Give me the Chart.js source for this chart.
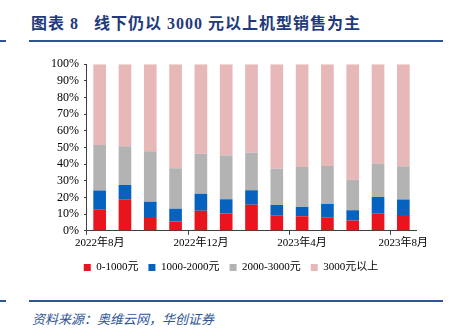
<!DOCTYPE html>
<html>
<head>
<meta charset="utf-8">
<script src="https://cdn.jsdelivr.net/npm/chart.js@4.4.1/dist/chart.umd.min.js"></script>
<style>
  body { margin: 0; width: 456px; height: 330px; background: #fff; position: relative; overflow: hidden; }
  .title { position: absolute; left: 31px; top: 10px; font: bold 16px "Liberation Serif", "Noto Sans CJK SC"; color: #233a7a; letter-spacing: 1px; white-space: pre; }
  .rule { position: absolute; height: 2px; background: #2e5597; }
  .src { position: absolute; left: 32px; top: 309px; font: italic 13px "Liberation Serif", "Noto Sans CJK SC"; color: #2e5597; white-space: pre; }
  #wrap { position: absolute; left: 0; top: 52px; width: 456px; height: 231px; }
</style>
</head>
<body>
<div class="title">图表 8   线下仍以 3000 元以上机型销售为主</div>
<div class="rule" style="left:0;top:40px;width:6px"></div>
<div class="rule" style="left:29px;top:40px;width:414px"></div>
<div id="wrap"><canvas id="myChart"></canvas></div>
<div class="rule" style="left:0;top:300px;width:6px"></div>
<div class="rule" style="left:29px;top:300px;width:414px"></div>
<div class="src">资料来源：奥维云网，华创证券</div>
<script>
const months = ['2022年8月', '2022年9月', '2022年10月', '2022年11月', '2022年12月', '2023年1月', '2023年2月',
  '2023年3月', '2023年4月', '2023年5月', '2023年6月', '2023年7月', '2023年8月'];
const below1000 = [13.0, 19.0, 8.3, 5.6, 12.0, 10.4, 15.7, 9.3, 8.7, 8.1, 6.2, 10.6, 9.5];
const from1000 = [11.2, 8.5, 9.1, 7.6, 10.2, 8.6, 8.7, 6.2, 5.6, 8.0, 6.2, 9.7, 9.3];
const from2000 = [27.3, 23.2, 30.4, 24.3, 24.0, 26.2, 22.4, 21.8, 24.0, 22.8, 18.2, 20.1, 19.9];
const above3000 = [48.5, 49.3, 52.2, 62.5, 53.8, 54.8, 53.2, 62.7, 61.7, 61.1, 69.4, 59.6, 61.3];
const yTicks = [0, 10, 20, 30, 40, 50, 60, 70, 80, 90, 100];

const serif = '"Liberation Serif", "Noto Sans CJK SC"';

const data = {
  labels: months,
  datasets: [
    { label: '0-1000元', data: below1000, backgroundColor: '#e8141e' },
    { label: '1000-2000元', data: from1000, backgroundColor: '#0562be' },
    { label: '2000-3000元', data: from2000, backgroundColor: '#b3b3b3' },
    { label: '3000元以上', data: above3000, backgroundColor: '#e6b8b7' }
  ]
};

const config = {
  type: 'bar',
  data,
  options: {
    responsive: true,
    maintainAspectRatio: false,
    animation: false,
    barPercentage: 0.5,
    categoryPercentage: 1,
    layout: { padding: { left: 46, right: 40, top: 6, bottom: 0 } },
    plugins: {
      legend: {
        position: 'bottom',
        labels: {
          boxWidth: 7, boxHeight: 7, padding: 10,
          color: '#000', font: { family: serif, size: 11 }
        }
      },
      tooltip: { enabled: false }
    },
    scales: {
      x: {
        stacked: true,
        offset: true,
        grid: {
          offset: true, drawOnChartArea: false, drawTicks: true, tickLength: 4,
          color: (ctx) => ctx.index % 4 === 0 ? '#404040' : 'rgba(0,0,0,0)'
        },
        border: { color: '#404040', width: 1 },
        ticks: {
          autoSkip: false, maxRotation: 0, padding: 2, color: '#000',
          font: { family: serif, size: 11 },
          callback: (v, i) => i % 4 === 0 ? months[i] : ''
        }
      },
      y: {
        stacked: true,
        min: 0, max: 100,
        afterBuildTicks: (axis) => { axis.ticks = yTicks.map(v => ({ value: v })); },
        grid: { drawOnChartArea: false, drawTicks: true, tickLength: 3, color: '#404040' },
        border: { color: '#404040', width: 1 },
        ticks: {
          autoSkip: false, padding: 5, color: '#000',
          font: { family: serif, size: 12 },
          callback: (v) => v + '%'
        }
      }
    }
  }
};

const myChart = new Chart(document.getElementById('myChart'), config);
</script>
</body>
</html>
